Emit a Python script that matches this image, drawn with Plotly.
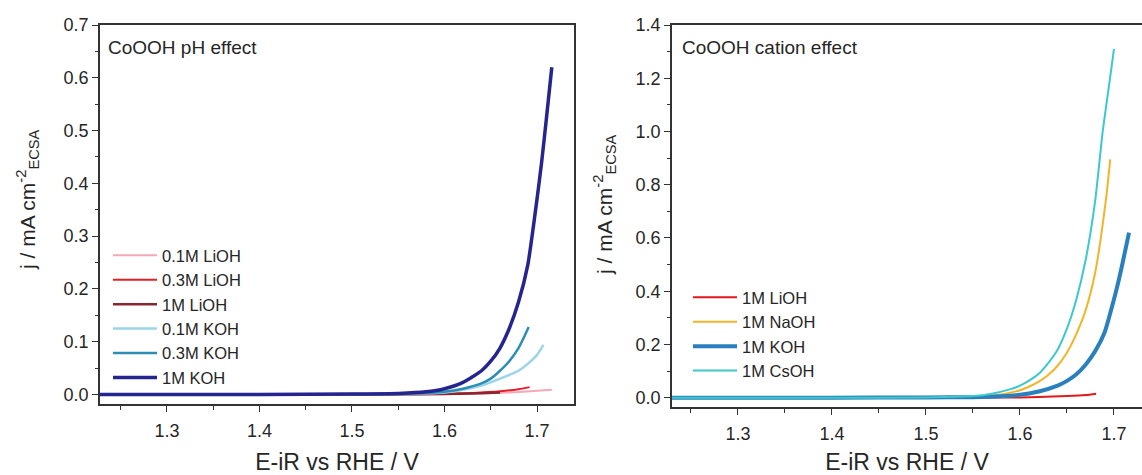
import plotly.graph_objects as go

# ---------------- data ----------------
# Left panel: CoOOH pH effect
x_li01 = [1.22, 1.40, 1.55, 1.60, 1.64, 1.67, 1.70, 1.716]
j_li01 = [0.0, 0.0, 0.0005, 0.001, 0.002, 0.004, 0.007, 0.009]

x_li03 = [1.22, 1.40, 1.55, 1.60, 1.63, 1.66, 1.68, 1.692]
j_li03 = [0.0, 0.0, 0.0005, 0.0015, 0.003, 0.006, 0.010, 0.014]

x_li1 = [1.22, 1.40, 1.55, 1.60, 1.63, 1.66]
j_li1 = [0.0, 0.0, 0.0005, 0.001, 0.002, 0.004]

x_k01 = [1.22, 1.40, 1.55, 1.60, 1.62, 1.64, 1.66, 1.68, 1.69, 1.70, 1.707]
j_k01 = [0.0, 0.0, 0.001, 0.004, 0.009, 0.017, 0.030, 0.045, 0.058, 0.075, 0.094]

x_k03 = [1.22, 1.40, 1.55, 1.58, 1.60, 1.62, 1.64, 1.65, 1.66, 1.67, 1.68, 1.685, 1.691]
j_k03 = [0.0, 0.0, 0.001, 0.003, 0.005, 0.011, 0.021, 0.030, 0.045, 0.063, 0.088, 0.105, 0.128]

x_k1 = [1.22, 1.30, 1.40, 1.50, 1.55, 1.58, 1.60, 1.62, 1.64, 1.65, 1.66, 1.67, 1.68, 1.69, 1.70, 1.705, 1.71, 1.716]
j_k1 = [0.0, 0.0, 0.0, 0.001, 0.002, 0.005, 0.011, 0.023, 0.045, 0.063, 0.088, 0.125, 0.175, 0.245, 0.37, 0.44, 0.52, 0.62]

# Right panel: CoOOH cation effect (1 M electrolytes)
x_li = [1.22, 1.40, 1.55, 1.60, 1.62, 1.65, 1.67, 1.681]
j_li = [0.0, 0.0, 0.0, 0.001, 0.003, 0.006, 0.010, 0.015]

x_na = [1.22, 1.40, 1.50, 1.55, 1.58, 1.60, 1.61, 1.62, 1.63, 1.64, 1.65, 1.66, 1.67, 1.68, 1.686, 1.692, 1.696]
j_na = [0.0, 0.0, 0.001, 0.004, 0.012, 0.028, 0.042, 0.060, 0.085, 0.12, 0.17, 0.24, 0.33, 0.47, 0.60, 0.76, 0.895]

x_k = x_k1
j_k = j_k1

x_cs = [1.22, 1.40, 1.50, 1.55, 1.57, 1.59, 1.60, 1.61, 1.62, 1.63, 1.64, 1.65, 1.66, 1.67, 1.68, 1.688, 1.695, 1.70]
j_cs = [0.0, 0.0, 0.001, 0.006, 0.015, 0.032, 0.045, 0.065, 0.09, 0.13, 0.18, 0.26, 0.37, 0.52, 0.74, 1.0, 1.18, 1.31]

left_names = ["0.1M LiOH", "0.3M LiOH", "1M LiOH", "0.1M KOH", "0.3M KOH", "1M KOH"]
right_names = ["1M LiOH", "1M NaOH", "1M KOH", "1M CsOH"]

x_ticks = [1.3, 1.4, 1.5, 1.6, 1.7]

# ---------------- figure ----------------
FONT = "Liberation Sans, Arial, sans-serif"
TXT = "#262626"
W, H = 1142, 475
T, B = 25, 68
PH = H - T - B


def py(px):
    """paper y fraction from a pixel row"""
    return 1 - (px - T) / PH


fig = go.Figure()

left_series = [
    (x_li01, j_li01, "#f3a9b7", 2),
    (x_li03, j_li03, "#e41e26", 2),
    (x_li1, j_li1, "#8c2432", 2.5),
    (x_k01, j_k01, "#9bd4ea", 2.5),
    (x_k03, j_k03, "#2d8db5", 2.5),
    (x_k1, j_k1, "#25258f", 3.5),
]
for (xs, js, col, w), name in zip(left_series, left_names):
    fig.add_trace(go.Scatter(x=xs, y=js, mode="lines", name=name,
                             line=dict(color=col, width=w, shape="spline", smoothing=0.6),
                             xaxis="x", yaxis="y", legend="legend"))

right_series = [
    (x_li, j_li, "#e31a1c", 2),
    (x_na, j_na, "#f2b429", 2),
    (x_k, j_k, "#2a80bf", 4),
    (x_cs, j_cs, "#3dc8cb", 2),
]
for (xs, js, col, w), name in zip(right_series, right_names):
    fig.add_trace(go.Scatter(x=xs, y=js, mode="lines", name=name,
                             line=dict(color=col, width=w, shape="spline", smoothing=0.6),
                             xaxis="x2", yaxis="y2", legend="legend2"))

axis_common = dict(
    showline=True, linecolor="#333333", linewidth=1.6, mirror=True,
    ticks="outside", ticklen=6, tickwidth=1.4, tickcolor="#333333",
    showgrid=False, zeroline=False,
    tickfont=dict(family=FONT, size=18, color=TXT),
)
xtitle_font = dict(family=FONT, size=23, color=TXT)

fig.update_layout(
    width=W, height=H,
    margin=dict(l=0, r=0, t=T, b=B),
    paper_bgcolor="white", plot_bgcolor="white",
    font=dict(family=FONT, color=TXT),
    xaxis=dict(axis_common, domain=[100 / W, 574 / W], range=[1.2276, 1.740],
               tickvals=x_ticks, tickformat=".1f", anchor="y", ticklabelstandoff=4,
               minor=dict(ticks="outside", ticklen=4, tickwidth=1.2, tickcolor="#333333", dtick=0.05, tick0=1.25),
               title=dict(text="E-iR vs RHE / V", font=xtitle_font, standoff=14)),
    yaxis=dict(axis_common, domain=[3 / PH, 1], range=[-0.018, 0.70], dtick=0.1, tick0=0,
               tickformat=".1f", anchor="x",
               minor=dict(ticks="outside", ticklen=3, tickwidth=1.2, tickcolor="#333333", dtick=0.05, tick0=0)),
    xaxis2=dict(axis_common, domain=[672 / W, 1.0], range=[1.2298, 1.7298],
                tickvals=x_ticks, tickformat=".1f", anchor="y2", ticklabelstandoff=4,
                minor=dict(ticks="outside", ticklen=4, tickwidth=1.2, tickcolor="#333333", dtick=0.05, tick0=1.25),
                title=dict(text="E-iR vs RHE / V", font=xtitle_font, standoff=14)),
    yaxis2=dict(axis_common, domain=[0, 1], range=[-0.035, 1.40], dtick=0.2, tick0=0,
                tickformat=".1f", anchor="x2", mirror=False,
                minor=dict(ticks="outside", ticklen=3, tickwidth=1.2, tickcolor="#333333", dtick=0.1, tick0=0)),
    legend=dict(x=108 / W, xanchor="left", y=py(238), yanchor="top",
                bgcolor="rgba(0,0,0,0)", borderwidth=0, tracegroupgap=0, itemwidth=44,
                font=dict(family=FONT, size=16.5, color=TXT)),
    legend2=dict(x=688 / W, xanchor="left", y=py(280), yanchor="top",
                 bgcolor="rgba(0,0,0,0)", borderwidth=0, tracegroupgap=0, itemwidth=44,
                 font=dict(family=FONT, size=16.5, color=TXT)),
    annotations=[
        dict(text="CoOOH pH effect", xref="paper", yref="paper", x=106 / W, y=py(48),
             xanchor="left", yanchor="middle", showarrow=False,
             font=dict(family=FONT, size=19, color=TXT)),
        dict(text="CoOOH cation effect", xref="paper", yref="paper", x=680 / W, y=py(48),
             xanchor="left", yanchor="middle", showarrow=False,
             font=dict(family=FONT, size=19, color=TXT)),
        dict(text="j / mA cm<sup>-2</sup><sub>ECSA</sub>", xref="paper", yref="paper",
             x=28 / W, y=py(200), xanchor="center", yanchor="middle", textangle=-90,
             showarrow=False, font=dict(family=FONT, size=21, color=TXT)),
        dict(text="j / mA cm<sup>-2</sup><sub>ECSA</sub>", xref="paper", yref="paper",
             x=605 / W, y=py(205), xanchor="center", yanchor="middle", textangle=-90,
             showarrow=False, font=dict(family=FONT, size=21, color=TXT)),
    ],
    showlegend=True,
)

fig.write_html("out.html")
